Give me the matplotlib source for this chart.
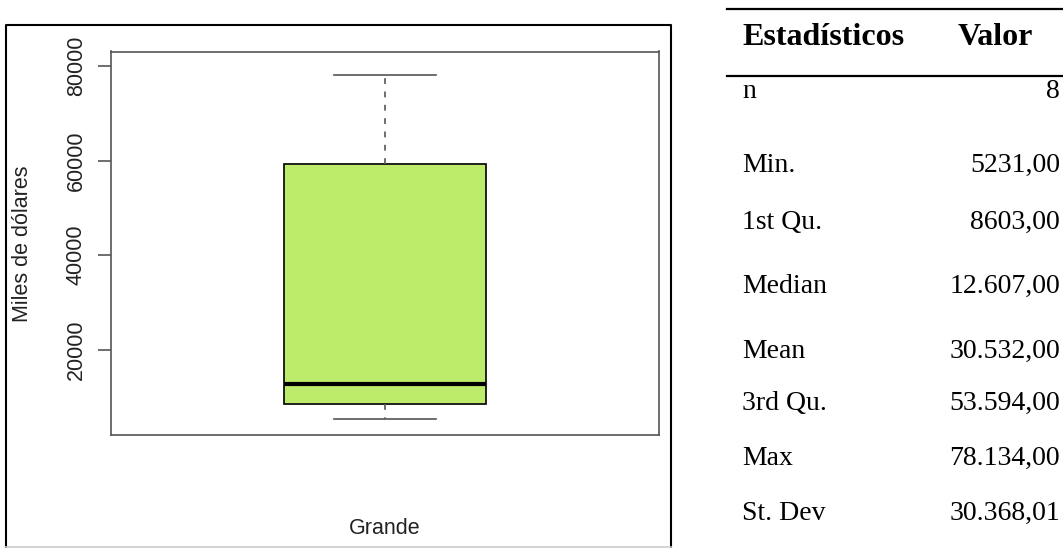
import matplotlib
matplotlib.use("Agg")
import matplotlib.pyplot as plt
from matplotlib.lines import Line2D

# Box values as drawn (miles de dolares)
box_label = "Grande"
box_min = 5231
box_q1 = 8500
box_median = 12607
box_q3 = 59350
box_max = 78134
y_ticks = [20000, 40000, 60000, 80000]

# Table of statistics
stat_names = ["n", "Min.", "1st Qu.", "Median", "Mean", "3rd Qu.", "Max", "St. Dev"]
stat_values = ["8", "5231,00", "8603,00", "12.607,00", "30.532,00", "53.594,00", "78.134,00", "30.368,01"]

W, H = 1063, 548
fig = plt.figure(figsize=(W / 100, H / 100), dpi=100)

def fx(px):
    return px / W

def fy(py):
    return 1 - py / H

# Boxplot panel
ax = fig.add_axes([fx(111), fy(434.5), fx(659) - fx(111), fy(51.5) - fy(434.5)])
stats = [dict(med=box_median, q1=box_q1, q3=box_q3, whislo=box_min, whishi=box_max, label=box_label)]
ax.bxp(stats, positions=[1], widths=0.37, patch_artist=True, showfliers=False,
       boxprops=dict(facecolor="#BDEC6B", edgecolor="#111111", linewidth=1.3),
       medianprops=dict(color="black", linewidth=3),
       whiskerprops=dict(color="#555555", linewidth=1.2, linestyle=(0, (3.5, 4.5))),
       capprops=dict(color="#555555", linewidth=1.2), capwidths=0.185)
ax.set_xlim(0.5, 1.5)
ax.set_ylim(2011, 83069)
ax.set_xticks([])
ax.set_yticks(y_ticks)
ax.set_yticklabels([str(t) for t in y_ticks], rotation=90, va="center",
                   fontsize=15.5, family="Liberation Sans", color="#222222")
ax.tick_params(axis="y", length=9.5, width=1.2, color="#555555", pad=8)
for s in ax.spines.values():
    s.set_color("#555555")
    s.set_linewidth(1.2)

fig.text(fx(22), fy(244), "Miles de dólares", rotation=90, ha="center", va="center",
         fontsize=15.5, family="Liberation Sans", color="#222222")
fig.text(fx(385), fy(528), box_label, ha="center", va="center",
         fontsize=15.5, family="Liberation Sans", color="#222222")

# Outer frame around the chart
fig.add_artist(Line2D([fx(6), fx(6), fx(671), fx(671)], [fy(547), fy(25), fy(25), fy(547)],
                      color="black", linewidth=1.5))
fig.add_artist(Line2D([fx(6), fx(671)], [fy(547), fy(547)], color="#cccccc", linewidth=1.2))

# Table
fig.add_artist(Line2D([fx(727), fx(1063)], [fy(9), fy(9)], color="black", linewidth=1.6))
fig.add_artist(Line2D([fx(727), fx(1063)], [fy(76), fy(76)], color="black", linewidth=1.6))
fig.text(fx(742), fy(45), "Estadísticos", ha="left", va="baseline", fontsize=23,
         fontweight="bold", family="Liberation Serif")
fig.text(fx(958), fy(45), "Valor", ha="left", va="baseline", fontsize=23,
         fontweight="bold", family="Liberation Serif")
row_base = [98, 172, 229, 293, 358, 410, 465, 520]
for name, val, yb in zip(stat_names, stat_values, row_base):
    fig.text(fx(742), fy(yb), name, ha="left", va="baseline", fontsize=20,
             family="Liberation Serif")
    fig.text(fx(1060), fy(yb), val, ha="right", va="baseline", fontsize=20,
             family="Liberation Serif")

fig.savefig("out.png", dpi=100)
